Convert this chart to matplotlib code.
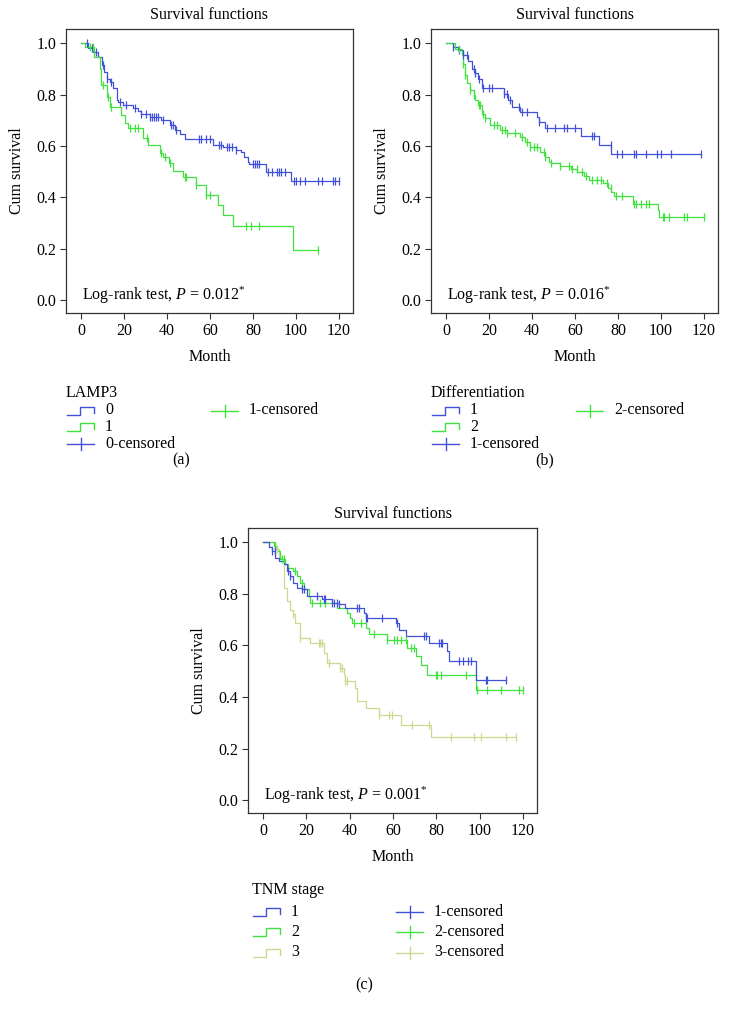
import numpy as np
import matplotlib
matplotlib.use("Agg")
import matplotlib.pyplot as plt
from matplotlib.lines import Line2D

plt.rcParams['font.family'] = ['Liberation Serif', 'DejaVu Serif']
plt.rcParams['mathtext.fontset'] = 'custom'
plt.rcParams['mathtext.rm'] = 'Liberation Serif'
plt.rcParams['mathtext.it'] = 'Liberation Serif:italic'

# ---------------- data ----------------
# Panel (a) LAMP3
a0_t = [3.4, 5.7, 8.0, 9.6, 10.8, 11.9, 13.4, 15.0, 16.5, 17.3, 19.6, 24.0, 26.6, 28.0, 32.0, 37.4,
        41.2, 43.5, 45.9, 48.2, 61.5, 66.0, 72.0, 74.5, 76.0, 77.5, 78.3, 86.0, 97.6]
a0_s = [0.98, 0.966, 0.947, 0.914, 0.888, 0.862, 0.849, 0.824, 0.778, 0.772, 0.759, 0.748, 0.735, 0.724,
        0.713, 0.70, 0.681, 0.661, 0.645, 0.627, 0.605, 0.595, 0.586, 0.577, 0.558, 0.538, 0.529, 0.50, 0.463]
a0_c = [3, 5, 7, 10, 12, 14, 18, 21, 25, 28, 30, 32, 33, 34, 35, 36, 38, 42, 43, 44, 55, 56, 58, 60,
        64, 65, 68, 69, 70, 72, 80, 81, 82, 83, 87, 89, 91, 92, 93, 95, 99, 100, 102, 104, 110, 112,
        117, 118, 120]
a1_t = [2.0, 6.0, 9.0, 9.5, 11.9, 13.4, 18.8, 20.4, 22.0, 28.9, 31.0, 36.6, 38.0, 41.0, 42.8, 47.4,
        53.6, 58.2, 63.6, 66.0, 70.6, 98.4]
a1_s = [0.986, 0.947, 0.90, 0.836, 0.79, 0.752, 0.72, 0.69, 0.668, 0.629, 0.603, 0.571, 0.558, 0.532,
        0.503, 0.48, 0.447, 0.411, 0.37, 0.331, 0.288, 0.195]
a1_c = [4, 5.7, 10, 12.7, 14, 22.7, 25, 26.6, 30.7, 37.4, 38.9, 41.2, 48.2, 49, 53.6, 58.2, 60, 76.8,
        79.1, 83, 110]

# Panel (b) Differentiation
b1_t = [3.4, 5.7, 8.0, 10.4, 11.9, 13.5, 15.0, 16.7, 26.8, 29.0, 30.7, 34.6, 42.3, 43.1, 46.2, 62.6,
        71.1, 76.7]
b1_s = [0.986, 0.973, 0.953, 0.93, 0.90, 0.882, 0.862, 0.827, 0.804, 0.778, 0.752, 0.733, 0.713, 0.694,
        0.670, 0.638, 0.604, 0.567]
b1_c = [3.4, 5.8, 8.1, 9.7, 12.8, 13.5, 15.1, 17.4, 19.8, 21.3, 26.8, 28.3, 29.9, 33.8, 35.3, 37.7,
        43.1, 47, 50.9, 54.8, 56.3, 60.2, 68, 68.8, 76.6, 79.7, 82, 87.5, 88.2, 92.9, 98.3, 99.9, 104.6,
        118.6]
b2_t = [4.2, 7.3, 8.1, 8.9, 9.7, 11.2, 12.8, 13.5, 15.0, 16.7, 18.2, 20.5, 25.2, 28.3, 34.5, 36.9,
        39.2, 43.9, 46.2, 47.8, 48.6, 53.2, 57.9, 61.1, 64.3, 66.6, 72.8, 75.2, 76.7, 78.3, 86.8, 98.4,
        99.1]
b2_s = [0.979, 0.953, 0.92, 0.875, 0.843, 0.817, 0.798, 0.778, 0.759, 0.726, 0.707, 0.681, 0.661, 0.649,
        0.636, 0.614, 0.597, 0.577, 0.558, 0.538, 0.532, 0.523, 0.51, 0.50, 0.482, 0.467, 0.454, 0.435,
        0.421, 0.406, 0.376, 0.35, 0.324]
b2_c = [5.8, 8.1, 8.9, 11.2, 12.8, 15.1, 15.9, 17.4, 18.2, 22.1, 23.7, 26, 27.6, 28.3, 32.2, 35.3,
        37.7, 39.2, 40.8, 42.3, 45.4, 46.2, 48.6, 53.2, 57.1, 58.7, 61, 63.3, 64.9, 68, 70.3, 71.9, 75,
        76.6, 79, 82, 87.5, 88.2, 90.6, 92.9, 94.5, 100.7, 101.5, 103.8, 110.8, 112.3, 120]

# Panel (c) TNM stage
c1_t = [2.5, 4.0, 5.6, 7.1, 9.4, 11.0, 12.5, 14.0, 15.6, 17.9, 20.2, 27.2, 31.8, 34.9, 38.0, 46.5,
        47.3, 61.2, 62.7, 65.8, 76.6, 85.1, 85.9, 98.2]
c1_s = [0.98, 0.966, 0.94, 0.927, 0.914, 0.888, 0.869, 0.843, 0.824, 0.817, 0.791, 0.778, 0.765, 0.759,
        0.746, 0.726, 0.707, 0.688, 0.661, 0.638, 0.61, 0.577, 0.541, 0.464]
c1_c = [4, 5.5, 11.7, 12.5, 17.9, 18.7, 24.9, 27.9, 28.7, 31.8, 32.6, 34.1, 34.9, 43.4, 44.2, 47.3,
        48, 55, 61.9, 74.3, 75.1, 81.2, 82, 82.8, 90.5, 92.1, 94.4, 95.9, 102.9, 103.6, 112.1]
c2_t = [4.8, 6.3, 7.9, 10.2, 11.7, 14.0, 15.6, 17.1, 18.7, 21.0, 21.8, 34.0, 38.8, 40.3, 41.1, 47.3,
        48.8, 57.3, 66.6, 70.4, 72.8, 75.9, 98.2]
c2_s = [0.986, 0.966, 0.934, 0.914, 0.901, 0.888, 0.869, 0.843, 0.817, 0.791, 0.765, 0.746, 0.726,
        0.707, 0.688, 0.668, 0.645, 0.619, 0.588, 0.558, 0.522, 0.486, 0.428]
c2_c = [5.5, 8.6, 9.4, 14.8, 17.9, 22.6, 26.4, 28.7, 41.9, 45, 51.1, 57.3, 60.4, 61.9, 63.5, 65.8,
        68.1, 69.7, 79.7, 80.5, 82, 93.6, 99, 103.6, 109.8, 118.3, 119.9]
c3_t = [5.6, 7.1, 8.7, 9.4, 11.0, 12.5, 14.0, 14.8, 17.1, 21.8, 27.9, 29.5, 35.7, 37.2, 38.0, 42.6,
        43.4, 47.3, 53.4, 63.5, 77.4]
c3_s = [0.973, 0.94, 0.927, 0.824, 0.772, 0.739, 0.72, 0.688, 0.629, 0.61, 0.571, 0.532, 0.512, 0.486,
        0.46, 0.435, 0.383, 0.357, 0.331, 0.292, 0.246]
c3_c = [6.3, 14, 17.1, 25.6, 26.4, 27.2, 30.3, 35.7, 36.5, 38, 38.8, 53.4, 58.1, 59.6, 68.9, 76.6,
        86.7, 97.5, 100.6, 112.1, 116.8]

x_ticks = [0, 20, 40, 60, 80, 100, 120]
y_ticks = [0.0, 0.2, 0.4, 0.6, 0.8, 1.0]
titles = ["Survival functions", "Survival functions", "Survival functions"]
pvals = ["0.012", "0.016", "0.001"]
legend_titles = ["LAMP3", "Differentiation", "TNM stage"]
panel_labels = ["(a)", "(b)", "(c)"]

BLUE = '#4050d8'
GREEN = '#3fe23f'
YEL = '#c9d98f'

W, H = 729, 1018
fig = plt.figure(figsize=(W / 100, H / 100), dpi=100)

def fx(x):
    return x / W

def fy(y):
    return 1 - y / H

FS = 11.5

def km(ax, t, s, c, color):
    end = max(max(c), t[-1])
    xs = [0] + list(t) + [end]
    ys = [1.0] + list(s) + [s[-1]]
    ax.step(xs, ys, where='post', color=color, lw=0.9, zorder=3)
    t_arr = np.array(t)
    cy = []
    for ct in c:
        idx = np.searchsorted(t_arr, ct, side='right')
        cy.append(1.0 if idx == 0 else s[idx - 1])
    ax.plot(c, cy, ls='none', marker='|', ms=5.5, mew=0.9, color=color, zorder=4)

def panel(box, groups, title, pval):
    l, r, t, b = box
    ax = fig.add_axes([fx(l), fy(b), fx(r - l), (b - t) / H])
    for (tt, ss, cc, col) in groups:
        km(ax, tt, ss, cc, col)
    ax.set_xlim(-7, 126.5)
    ax.set_ylim(-0.05, 1.055)
    ax.set_xticks(x_ticks)
    ax.set_yticks(y_ticks)
    ax.set_yticklabels([f"{v:.1f}" for v in y_ticks])
    ax.tick_params(direction='out', length=4, width=0.8, labelsize=FS, pad=3, color='#333333')
    for sp in ax.spines.values():
        sp.set_color('#333333')
        sp.set_linewidth(0.9)
    fig.text(fx((l + r) / 2), fy(t - 14), title, ha='center', va='center', fontsize=FS)
    fig.text(fx((l + r) / 2), fy(b + 44), "Month", ha='center', va='center', fontsize=FS)
    fig.text(fx(l - 49), fy((t + b) / 2), "Cum survival", ha='center', va='center',
             rotation=90, fontsize=FS)
    ax.text(0.055, 0.063, "Log-rank test, $P$ = " + pval + "$^{*}$", transform=ax.transAxes,
            ha='left', va='center', fontsize=FS)
    return ax

def step_glyph(x0, yc, color):
    xs = [x0, x0 + 13, x0 + 13, x0 + 27, x0 + 27]
    ys = [yc + 4, yc + 4, yc - 4, yc - 4, yc + 2]
    fig.add_artist(Line2D([fx(v) for v in xs], [fy(v) for v in ys], color=color, lw=1.0,
                          transform=fig.transFigure))

def plus_glyph(x0, yc, color):
    fig.add_artist(Line2D([fx(x0), fx(x0 + 27)], [fy(yc), fy(yc)], color=color, lw=1.0,
                          transform=fig.transFigure))
    fig.add_artist(Line2D([fx(x0 + 13.5), fx(x0 + 13.5)], [fy(yc - 6), fy(yc + 6)], color=color,
                          lw=1.0, transform=fig.transFigure))

def legend(x0, ytitle, rows, title, names, colors, col2x):
    fig.text(fx(x0), fy(ytitle), title, ha='left', va='center', fontsize=FS)
    n = len(names)
    items = []
    for i in range(n):
        items.append(('step', names[i], colors[i]))
    for i in range(n):
        items.append(('plus', names[i] + "-censored", colors[i]))
    # fill column 1 with len(rows) items, rest to column 2
    for k, (kind, lab, col) in enumerate(items):
        if k < len(rows):
            xg, yc = x0 + 1, rows[k]
        else:
            xg, yc = col2x, rows[k - len(rows)]
        if kind == 'step':
            step_glyph(xg, yc, col)
        else:
            plus_glyph(xg, yc, col)
        fig.text(fx(xg + 38), fy(yc), lab, ha='left', va='center', fontsize=FS)

# Panel (a)
panel((66, 353, 29, 313), [(a0_t, a0_s, a0_c, BLUE), (a1_t, a1_s, a1_c, GREEN)], titles[0], pvals[0])
legend(66, 393, [410.5, 427, 443.5], legend_titles[0], ["0", "1"], [BLUE, GREEN], 211)
fig.text(fx(181), fy(460), panel_labels[0], ha='center', va='center', fontsize=FS)

# Panel (b)
panel((431, 718, 29, 313), [(b1_t, b1_s, b1_c, BLUE), (b2_t, b2_s, b2_c, GREEN)], titles[1], pvals[1])
legend(431, 393, [410.5, 427, 443.5], legend_titles[1], ["1", "2"], [BLUE, GREEN], 576)
fig.text(fx(545), fy(460), panel_labels[1], ha='center', va='center', fontsize=FS)

# Panel (c)
panel((248, 537, 528, 813), [(c3_t, c3_s, c3_c, YEL), (c2_t, c2_s, c2_c, GREEN), (c1_t, c1_s, c1_c, BLUE)],
      titles[2], pvals[2])
legend(252, 890, [911.5, 932, 952.5], legend_titles[2], ["1", "2", "3"], [BLUE, GREEN, YEL], 396)
fig.text(fx(364), fy(985), panel_labels[2], ha='center', va='center', fontsize=FS)

fig.savefig("out.png", dpi=100, facecolor='white')
